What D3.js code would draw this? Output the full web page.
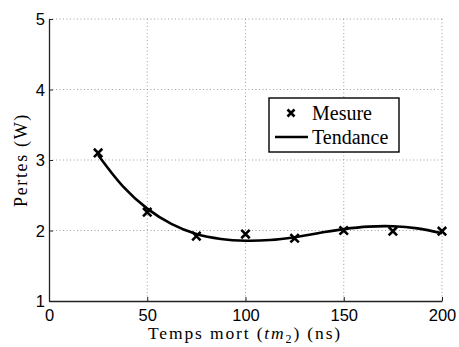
<!DOCTYPE html>
<html><head><meta charset="utf-8">
<script src="https://cdn.jsdelivr.net/npm/d3@7"></script>
<style>body{margin:0;background:#fff}svg{display:block}</style>
</head><body>
<svg id="c" width="459" height="347"></svg>
<script>
const xTicks = [0, 50, 100, 150, 200];
const yTicks = [1, 2, 3, 4, 5];
const mesureX = [25, 50, 75, 100, 125, 150, 175, 200];
const mesureY = [3.10, 2.26, 1.92, 1.95, 1.89, 2.00, 1.99, 1.99];
const trendX = [25, 37.5, 50, 62.5, 75, 87.5, 100, 112.5, 125, 137.5, 150, 162.5, 175, 187.5, 200];
const trendY = [3.07, 2.63, 2.31, 2.09, 1.95, 1.88, 1.855, 1.865, 1.905, 1.965, 2.02, 2.055, 2.06, 2.03, 1.96];
const legendLabels = ["Mesure", "Tendance"];

const svg = d3.select("#c");
const L = 49, R = 442, T = 19, B = 301;
const x = d3.scaleLinear().domain([0, 200]).range([L, R]);
const y = d3.scaleLinear().domain([1, 5]).range([B, T]);

// grid
const g = svg.append("g");
g.selectAll("line.gx").data(xTicks.slice(1)).join("line")
  .attr("x1", d => x(d)).attr("x2", d => x(d)).attr("y1", T).attr("y2", B)
  .attr("stroke", "#888").attr("stroke-width", 0.8).attr("stroke-dasharray", "1,2.5");
g.selectAll("line.gy").data(yTicks.slice(1)).join("line")
  .attr("x1", L).attr("x2", R).attr("y1", d => y(d)).attr("y2", d => y(d))
  .attr("stroke", "#888").attr("stroke-width", 0.8).attr("stroke-dasharray", "1,2.5");

// axes
const ax = svg.append("g").attr("transform", `translate(0,${B})`)
  .call(d3.axisBottom(x).tickValues(xTicks).tickFormat(d3.format("d")).tickSize(-4).tickPadding(8).tickSizeOuter(0));
const ay = svg.append("g").attr("transform", `translate(${L},0)`)
  .call(d3.axisLeft(y).tickValues(yTicks).tickFormat(d3.format("d")).tickSize(-4).tickPadding(4).tickSizeOuter(0));
[ax, ay].forEach(a => {
  a.select(".domain").attr("stroke", "#222").attr("stroke-width", 1.3);
  a.selectAll(".tick line").attr("stroke", "#222");
  a.selectAll("text").attr("font-family", "Liberation Sans, Arial, sans-serif")
    .attr("font-size", 16.5).attr("fill", "#000");
});
ax.selectAll("text").attr("dy", "0.71em");
ay.selectAll("text").attr("dy", "0.36em");

// trend line
const line = d3.line().x(d => x(d[0])).y(d => y(d[1])).curve(d3.curveCatmullRom);
svg.append("path").datum(trendX.map((d, i) => [d, trendY[i]]))
  .attr("d", line).attr("fill", "none").attr("stroke", "#000").attr("stroke-width", 2.6);

// markers
const cross = (cx, cy, s) => `M${cx-s},${cy-s}L${cx+s},${cy+s}M${cx-s},${cy+s}L${cx+s},${cy-s}`;
svg.selectAll("path.m").data(mesureX.map((d, i) => [d, mesureY[i]])).join("path")
  .attr("d", d => cross(x(d[0]), y(d[1]), 4.2))
  .attr("stroke", "#000").attr("stroke-width", 2.6).attr("fill", "none");

// widen text by letter spacing to match the wider serif of the original
function spreadTo(sel, w, n) {
  const cur = sel.node().getComputedTextLength();
  sel.attr("letter-spacing", Math.max(0, (w - cur) / n));
}

// axis labels
const serif = "Liberation Serif, Times New Roman, serif";
const xl = svg.append("text").attr("x", 148).attr("y", 339).attr("text-anchor", "start")
  .attr("font-family", serif).attr("font-size", 17.5).attr("fill", "#000");
xl.append("tspan").text("Temps mort (");
xl.append("tspan").attr("font-style", "italic").text("tm");
xl.append("tspan").attr("font-size", 12).attr("dy", 3.5).text("2");
xl.append("tspan").attr("dy", -3.5).text(") (ns)");
spreadTo(xl, 194, 21);

const yl = svg.append("text").attr("transform", "translate(27,113) rotate(-90)").attr("text-anchor", "end")
  .attr("font-family", serif).attr("font-size", 18).attr("fill", "#000").text("Pertes (W)");
spreadTo(yl, 94, 10);

// legend
const lg = svg.append("g");
lg.append("rect").attr("x", 269).attr("y", 98).attr("width", 130).attr("height", 54)
  .attr("fill", "#fff").attr("stroke", "#000").attr("stroke-width", 1.4);
lg.append("path").attr("d", cross(291, 113, 3.5)).attr("stroke", "#000").attr("stroke-width", 2.6);
lg.append("line").attr("x1", 275).attr("x2", 308).attr("y1", 137).attr("y2", 137)
  .attr("stroke", "#000").attr("stroke-width", 2.6);
lg.selectAll("text").data(legendLabels).join("text")
  .attr("x", 312).attr("y", (d, i) => 119.5 + i * 24)
  .attr("font-family", serif).attr("font-size", 20).attr("fill", "#000").text(d => d);
</script>
</body></html>
